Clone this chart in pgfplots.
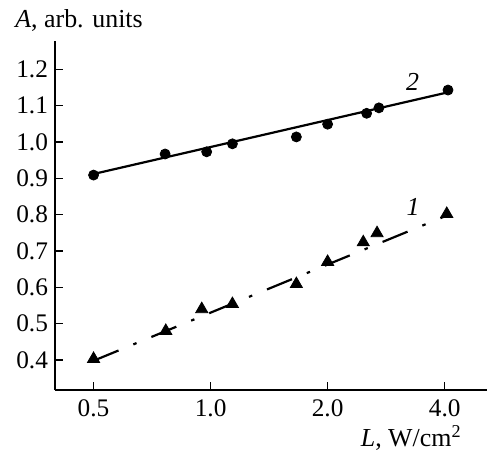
\documentclass[border=0pt]{standalone}
\usepackage{fontspec}
\setmainfont{Liberation Serif}
\usepackage{pgfplots}
\pgfplotsset{compat=1.18}
\begin{document}
\begin{tikzpicture}
\begin{axis}[
 at={(0,0)}, anchor=south west,
 scale only axis, width=216bp, height=174.5bp,
 xmode=log, log basis x=2,
 xmin=0.398, xmax=5.14, ymin=0.3175, ymax=1.278,
 axis x line*=bottom, axis y line*=left,
 tick align=inside, major tick length=4bp,
 xtick={0.5,1,2,4}, xticklabels={0.5,1.0,2.0,4.0},
 ytick={0.4,0.5,0.6,0.7,0.8,0.9,1.0,1.1,1.2},
 yticklabels={0.4,0.5,0.6,0.7,0.8,0.9,1.0,1.1,1.2},
 xminorticks=false, yminorticks=false,
 tick label style={font=\fontsize{12.7}{15}\selectfont},
 xticklabel style={yshift=-1.5bp},
 /pgf/number format/assume math mode=true,
 axis line style={line width=0.6bp},
 tick style={line width=0.6bp, black},
 clip=false,
]
% series 2 (circles)
\addplot[only marks, mark=*, mark size=2.5bp, black] coordinates {
(0.5,0.909) (0.764,0.967) (0.977,0.973) (1.138,0.995) (1.662,1.014)
(2.0,1.049) (2.52,1.079) (2.71,1.094) (4.08,1.143)};
\addplot[black, line width=1.1bp] coordinates {(0.5,0.912) (4.05,1.136)};
% series 1 (triangles)
\addplot[only marks, mark=triangle*, mark size=3.5bp, black] coordinates {
(0.5,0.403) (0.767,0.48) (0.949,0.54) (1.138,0.554) (1.662,0.609)
(2.0,0.67) (2.47,0.724) (2.68,0.749) (4.05,0.802)};
\addplot[black, line width=1.1bp, dash pattern=on 13.5bp off 8bp on 1.75bp off 8bp] coordinates {(0.5,0.398) (4.08,0.799)};
\node[font=\itshape\fontsize{13}{15}\selectfont] at (axis cs:3.31,1.164) {2};
\node[font=\itshape\fontsize{13}{15}\selectfont] at (axis cs:3.32,0.822) {1};
\end{axis}
\node[anchor=base west, inner sep=0pt, font=\fontsize{13}{15}\selectfont] at (-20bp,181bp) {\textit{A}, arb. units};
\node[anchor=base east, inner sep=0pt, font=\fontsize{13}{15}\selectfont] at (203.5bp,-28bp) {\textit{L}, W/cm\textsuperscript{2}};
\pgfresetboundingbox
\path[use as bounding box] (-27.5bp,-32bp) rectangle (216bp,195bp);
\end{tikzpicture}
\end{document}
